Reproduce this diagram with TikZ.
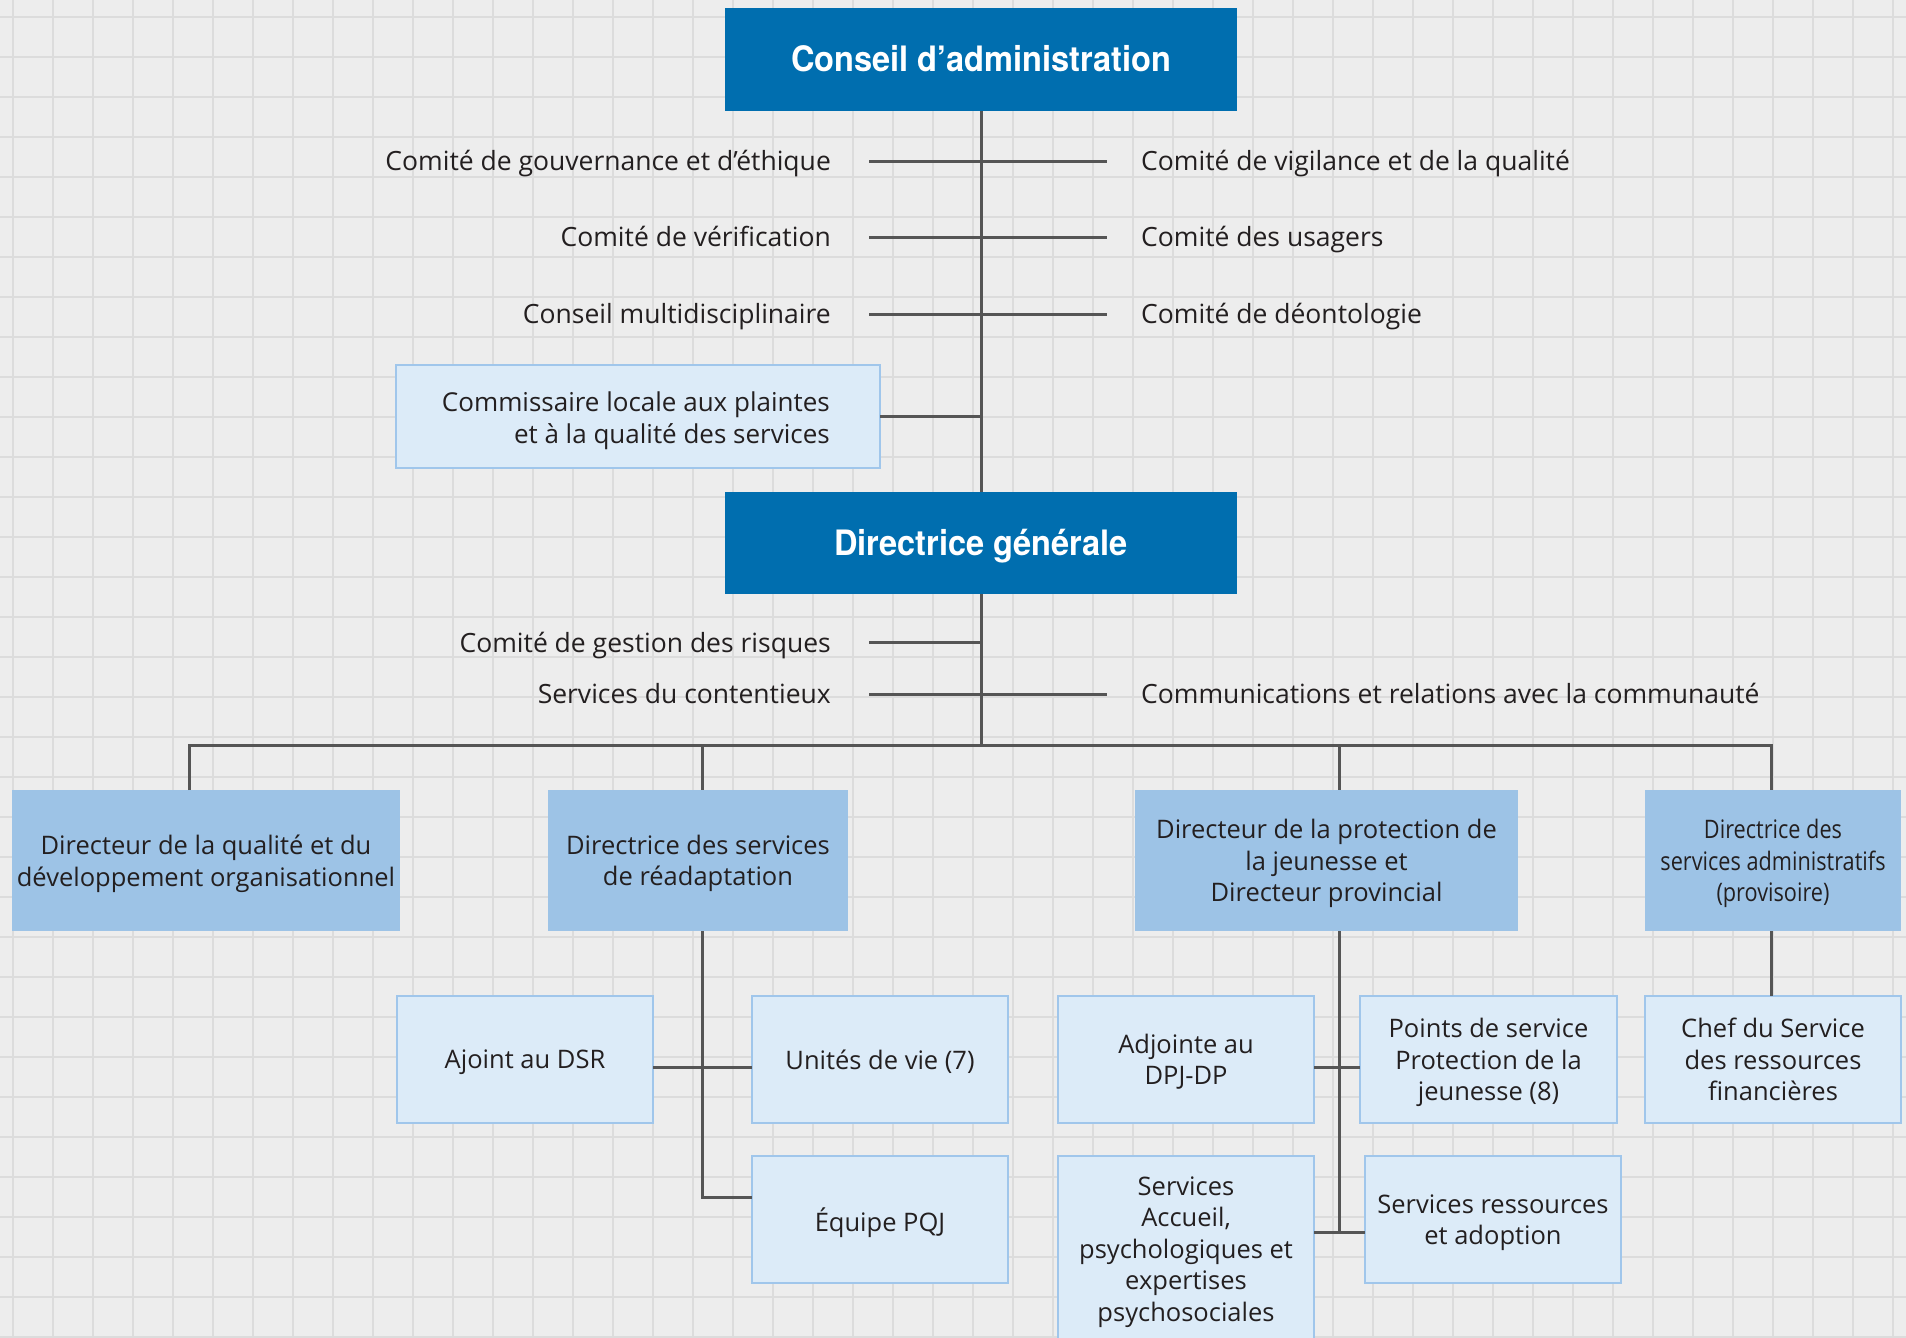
\documentclass[tikz,border=0pt]{standalone}
\usepackage{fontspec}
\setmainfont{Open Sans}
\newfontfamily\ttlfont[FakeStretch=0.93]{TeX Gyre Heros}
\newfontfamily\condfont[FakeStretch=0.85]{Open Sans}
\definecolor{bgc}{HTML}{EDEDED}
\definecolor{gridc}{HTML}{DCDCDC}
\definecolor{dkblue}{HTML}{006EAF}
\definecolor{midblue}{HTML}{9DC3E6}
\definecolor{paleblue}{HTML}{DCEBF8}
\definecolor{paleedge}{HTML}{A0C6EB}
\definecolor{txt}{HTML}{231F20}
\definecolor{linec}{HTML}{555555}
\begin{document}
\begin{tikzpicture}[x=1pt,y=-1pt,
  gridl/.style={draw=gridc,line width=1.5pt},
  conn/.style={draw=linec,line width=3pt},
  titlebox/.style={fill=dkblue,text=white,font=\ttlfont\bfseries\fontsize{35}{40}\selectfont,
     inner sep=0pt,outer sep=0pt,anchor=north west,minimum width=512pt,minimum height=103pt,
     text height=25pt,text depth=0pt},
  midbox/.style={fill=midblue,text=txt,font=\fontsize{25.5}{31.5}\selectfont,align=center,
     inner sep=0pt,outer sep=0pt,anchor=north west,minimum height=141pt,text depth=0pt},
  palebox/.style={fill=paleblue,draw=paleedge,line width=2pt,text=txt,font=\fontsize{25.5}{31.5}\selectfont,
     align=center,inner sep=0pt,outer sep=0pt,anchor=north west,minimum width=256pt,minimum height=127pt,
     text depth=0pt},
  lablft/.style={text=txt,font=\fontsize{26.5}{32}\selectfont,inner sep=0pt,anchor=base east},
  labrgt/.style={text=txt,font=\fontsize{26.5}{32}\selectfont,inner sep=0pt,anchor=base west}]
\useasboundingbox (0,0) rectangle (1906,1338);
\clip (0,0) rectangle (1906,1338);
\fill[bgc] (0,0) rectangle (1906,1338);
\foreach \k in {0,...,47} \draw[gridl] ({13+40*\k},0) -- ({13+40*\k},1338);
\foreach \k in {0,...,33} \draw[gridl] (0,{17+40*\k}) -- (1906,{17+40*\k});

% top boxes
\node[titlebox] (ca) at (725,8) {Conseil d’administration};
\node[titlebox,minimum height=102pt] (dg) at (725,492) {Directrice générale};

% committee labels (group 1)
\node[lablft] (g1) at (831,170) {Comité de gouvernance et d’éthique};
\node[lablft] (g2) at (831,246) {Comité de vérification};
\node[lablft] (g3) at (831,323) {Conseil multidisciplinaire};
\node[labrgt] (d1) at (1141,170) {Comité de vigilance et de la qualité};
\node[labrgt] (d2) at (1141,246) {Comité des usagers};
\node[labrgt] (d3) at (1141,323) {Comité de déontologie};
\coordinate (l1) at (869,161); \coordinate (r1) at (1107,161);
\coordinate (l2) at (869,237); \coordinate (r2) at (1107,237);
\coordinate (l3) at (869,314); \coordinate (r3) at (1107,314);

\node[palebox,minimum width=484pt,minimum height=103pt] (comm) at (396,365) {};
\node[text=txt,font=\fontsize{26}{32}\selectfont,align=right,inner sep=0pt,anchor=base east] (commtxt) at (830,443)
  {Commissaire locale aux plaintes\\et à la qualité des services};

% group 2 labels
\node[lablft] (h1) at (831,652) {Comité de gestion des risques};
\node[lablft] (h2) at (831,703) {Services du contentieux};
\node[labrgt] (k2) at (1141,703) {Communications et relations avec la communauté};
\coordinate (m1) at (869,642);
\coordinate (m2) at (869,694); \coordinate (n2) at (1107,694);

% level 2
\node[midbox,minimum width=388pt] (A) at (12,790) {Directeur de la qualité et du\\développement organisationnel};
\node[midbox,minimum width=300pt] (B) at (548,790) {Directrice des services\\de réadaptation};
\node[midbox,minimum width=383pt] (C) at (1135,790) {Directeur de la protection de\\la jeunesse et\\Directeur provincial};
\node[midbox,minimum width=256pt,font=\condfont\fontsize{25.5}{31.5}\selectfont] (D) at (1645,790) {Directrice des\\services administratifs\\(provisoire)};

% level 3
\node[palebox] (ajoint) at (397,996) {Ajoint au DSR};
\node[palebox] (unites) at (752,996) {Unités de vie (7)};
\node[palebox] (equipe) at (752,1156) {Équipe PQJ};
\node[palebox] (adjointe) at (1058,996) {Adjointe au\\DPJ-DP};
\node[palebox,minimum width=257pt] (points) at (1360,996) {Points de service\\Protection de la\\jeunesse (8)};
\node[palebox] (chef) at (1645,996) {Chef du Service\\des ressources\\financières};
\node[palebox,minimum height=186pt] (accueil) at (1058,1156) {Services\\Accueil,\\psychologiques et\\expertises\\psychosociales};
\node[palebox] (ress) at (1365,1156) {Services ressources\\et adoption};

% connectors
\draw[conn] (ca.south) -- (dg.north);
\draw[conn] (l1) -- (r1);
\draw[conn] (l2) -- (r2);
\draw[conn] (l3) -- (r3);
\draw[conn] (comm.east) -- (comm.east -| ca.south);
\draw[conn] (m1) -- (m1 -| dg.south);
\draw[conn] (m2) -- (n2);
\coordinate (busL) at (189,745);
\coordinate (busB) at (702,745);
\coordinate (busC) at (1339,745);
\coordinate (busR) at (1771,745);
\draw[conn] (dg.south) -- (dg.south |- busL);
\draw[conn] (busL |- A.north) -- (busL) -- (busR) -- (busR |- D.north);
\draw[conn] (busB) -- (busB |- B.north);
\draw[conn] (busC) -- (busC |- C.north);

\coordinate (hB) at (702,1067);
\coordinate (sB) at (702,1197);
\draw[conn] (hB |- B.south) -- (sB) -- (sB -| equipe.west);
\draw[conn] (hB -| ajoint.east) -- (hB -| unites.west);
\coordinate (hC) at (1339,1067);
\coordinate (sC) at (1339,1232);
\draw[conn] (hC |- C.south) -- (sC);
\draw[conn] (hC -| adjointe.east) -- (hC -| points.west);
\draw[conn] (sC -| accueil.east) -- (sC -| ress.west);
\draw[conn] (busR |- D.south) -- (busR |- chef.north);
\end{tikzpicture}
\end{document}
